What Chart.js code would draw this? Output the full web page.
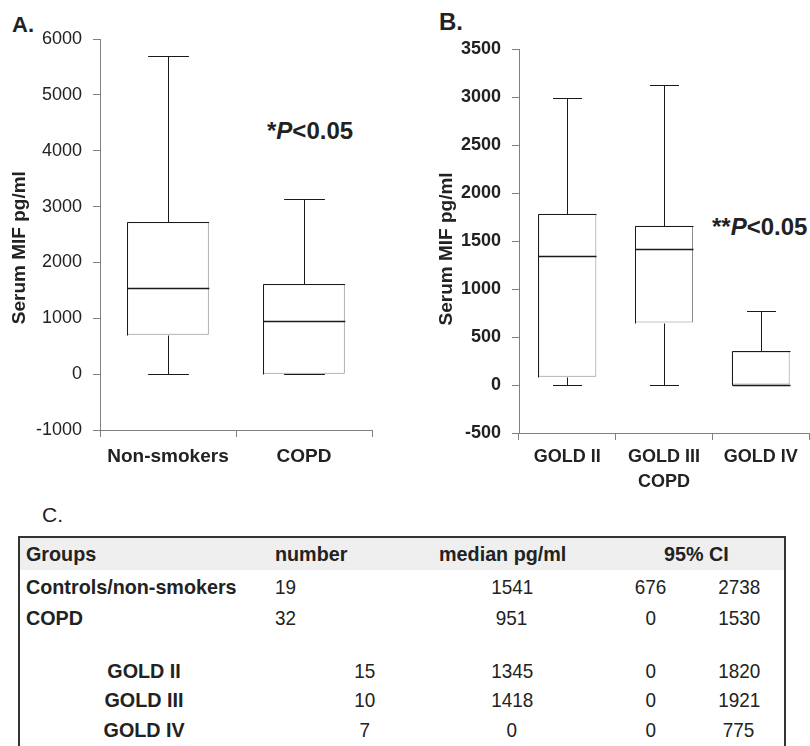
<!DOCTYPE html>
<html>
<head>
<meta charset="utf-8">
<script src="https://cdn.jsdelivr.net/npm/chart.js@4.4.1/dist/chart.umd.min.js"></script>
<style>
  body { margin: 0; width: 810px; height: 746px; background: #fff; position: relative; overflow: hidden;
         font-family: "Liberation Sans", Arial, sans-serif; color: #222; }
  canvas { position: absolute; }
  #chartA { left: 0; top: 0; }
  #chartB { left: 400px; top: 0; }
  .note { position: absolute; font-weight: bold; line-height: 1; white-space: nowrap; }
  #table { position: absolute; left: 18px; top: 536px; width: 764px; height: 240px;
           border: 2px solid #333; border-bottom: none; }
  #table .head { position: absolute; left: 0; right: 0; top: 0; height: 32px; background: #efefef; }
  .cell { position: absolute; height: 24px; line-height: 24px; font-size: 21px; white-space: nowrap; }
  .cell span { display: inline-block; transform: scaleX(0.9); }
  .cell.b span { transform: scaleX(0.94); }
  .cell.left span { transform-origin: left center; }
  .cell.mid { text-align: center; }
  .cell.mid span { transform-origin: center center; }
  .b { font-weight: bold; }
</style>
</head>
<body>
<div class="note" style="left:12px;top:14px;font-size:22px;">A.</div>
<div class="note" style="left:439px;top:10px;font-size:24px;">B.</div>
<div class="note" style="left:267px;top:119px;font-size:24px;">*<i>P</i>&lt;0.05</div>
<div class="note" style="left:712px;top:215px;font-size:24px;">**<i>P</i>&lt;0.05</div>
<div class="note" style="left:42px;top:504px;font-size:21px;font-weight:normal;">C.</div>

<canvas id="chartA" width="380" height="480"></canvas>
<canvas id="chartB" width="410" height="500"></canvas>

<div id="table"><div class="head"></div></div>

<script>
// panel A: non-smokers vs COPD
const groupsA = ["Non-smokers", "COPD"];
const minA = [0, 0];
const q1A = [705, 0];
const medianA = [1541, 951];
const q3A = [2720, 1610];
const maxA = [5700, 3130];

// panel B: COPD by GOLD stage
const groupsB = ["GOLD II", ["GOLD III", "COPD"], "GOLD IV"];
const minB = [0, 0, 0];
const q1B = [85, 650, 0];
const medianB = [1345, 1418, 0];
const q3B = [1785, 1660, 350];
const maxB = [2990, 3130, 770];

// panel C: summary table
const tableHeaders = ["Groups", "number", "median pg/ml", "95% CI"];
const tableGroups = ["Controls/non-smokers", "COPD", "GOLD II", "GOLD III", "GOLD IV"];
const tableN = [19, 32, 15, 10, 7];
const tableMedian = [1541, 951, 1345, 1418, 0];
const tableCiLow = [676, 0, 0, 0, 0];
const tableCiHigh = [2738, 1530, 1820, 1921, 775];

const AXIS_GREY = "#808080";

// whiskers, caps, medians and the dark top/left box edges, via the chart's scales
const boxWhiskers = {
  id: "boxWhiskers",
  afterDatasetsDraw(chart) {
    const ds = chart.data.datasets[0];
    const meta = chart.getDatasetMeta(0);
    const xs = chart.scales.x;
    const ys = chart.scales.y;
    const ctx = chart.ctx;
    const cap = (xs.getPixelForValue(1) - xs.getPixelForValue(0)) * 0.15;
    ctx.save();
    ctx.strokeStyle = "#1a1a1a";
    meta.data.forEach((bar, i) => {
      const cx = Math.round(bar.x) + 0.5;
      const half = bar.width / 2;
      const xL = Math.round(bar.x - half) + 0.5;
      const yLo = Math.round(ys.getPixelForValue(ds.mins[i])) + 0.5;
      const yHi = Math.round(ys.getPixelForValue(ds.maxs[i])) + 0.5;
      const yQ1 = Math.round(ys.getPixelForValue(ds.data[i][0])) + 0.5;
      const yQ3 = Math.round(ys.getPixelForValue(ds.data[i][1])) + 0.5;
      const yMed = Math.round(ys.getPixelForValue(ds.medians[i])) + 0.5;
      ctx.lineWidth = 1;
      ctx.beginPath();
      ctx.moveTo(cx, yQ3); ctx.lineTo(cx, yHi);
      ctx.moveTo(cx - cap, yHi); ctx.lineTo(cx + cap, yHi);
      if (yLo - yQ1 > 0.5) {
        ctx.moveTo(cx, yQ1); ctx.lineTo(cx, yLo);
      }
      ctx.moveTo(cx - cap, yLo); ctx.lineTo(cx + cap, yLo);
      // top and left edges of the box are dark, the others stay grey
      ctx.moveTo(xL, yQ1); ctx.lineTo(xL, yQ3); ctx.lineTo(xL + bar.width, yQ3);
      ctx.stroke();
      ctx.lineWidth = 1.6;
      ctx.beginPath();
      ctx.moveTo(cx - half, yMed); ctx.lineTo(cx + half, yMed);
      ctx.stroke();
    });
    ctx.restore();
  }
};

function makeBoxChart(id, labels, mins, q1, medians, q3, maxs, opts) {
  return new Chart(document.getElementById(id), {
    type: "bar",
    data: {
      labels: labels,
      datasets: [{
        data: q1.map((v, i) => [v, q3[i]]),
        mins: mins,
        maxs: maxs,
        medians: medians,
        backgroundColor: "#fff",
        borderColor: "#8c8c8c",
        borderWidth: 1,
        borderSkipped: false,
        barPercentage: 0.6,
        categoryPercentage: 1
      }]
    },
    options: {
      responsive: false,
      animation: false,
      layout: { padding: { top: opts.top, right: opts.right, left: 0, bottom: 0 } },
      plugins: { legend: { display: false }, tooltip: { enabled: false } },
      scales: {
        x: {
          grid: { drawOnChartArea: false, drawTicks: true, tickLength: 7, color: AXIS_GREY, offset: true },
          border: { display: true, color: AXIS_GREY, width: 1 },
          ticks: {
            color: "#222",
            padding: opts.xPad,
            maxRotation: 0,
            autoSkip: false,
            font: { family: "Liberation Sans", size: opts.xFont, weight: "bold", lineHeight: 1.4 }
          },
          afterFit(scale) { scale.height = opts.xHeight; }
        },
        y: {
          min: opts.min,
          max: opts.max,
          grid: { drawOnChartArea: false, drawTicks: true, tickLength: 7, color: AXIS_GREY },
          border: { display: true, color: AXIS_GREY, width: 1 },
          ticks: {
            stepSize: opts.step,
            color: "#222",
            padding: 11,
            callback: (v) => String(v),
            font: { family: "Liberation Sans", size: 18, weight: opts.yWeight }
          },
          title: {
            display: true,
            // trailing spaces nudge the rotated title a little lower, as in the original
            text: "Serum MIF pg/ml" + opts.titleTail,
            color: "#222",
            padding: { top: opts.titlePad, bottom: 0 },
            font: { family: "Liberation Sans", size: 19, weight: "bold" }
          },
          afterFit(scale) { scale.width = opts.yWidth; }
        }
      }
    },
    plugins: [boxWhiskers]
  });
}

makeBoxChart("chartA", groupsA, minA, q1A, medianA, q3A, maxA, {
  top: 39, right: 8, min: -1000, max: 6000, step: 1000,
  yWidth: 100, xHeight: 50, xPad: 6, xFont: 19, yWeight: "normal", titlePad: 8, titleTail: "     "
});

makeBoxChart("chartB", groupsB, minB, q1B, medianB, q3B, maxB, {
  top: 49, right: 1, min: -500, max: 3500, step: 500,
  yWidth: 119, xHeight: 67, xPad: 4, xFont: 18, yWeight: "bold", titlePad: 35, titleTail: "   "
});

// table C
const table = document.getElementById("table");
const ORIGIN_X = 20, ORIGIN_Y = 538;

function addCell(text, x, yCenter, align, bold) {
  const d = document.createElement("div");
  d.className = "cell " + align + (bold ? " b" : "");
  d.style.top = (yCenter - 12 - ORIGIN_Y) + "px";
  if (align === "mid") {
    d.style.left = (x - 100 - ORIGIN_X) + "px";
    d.style.width = "200px";
  } else {
    d.style.left = (x - ORIGIN_X) + "px";
  }
  const s = document.createElement("span");
  s.textContent = text;
  d.appendChild(s);
  table.appendChild(d);
}

const headerY = 554;
addCell(tableHeaders[0], 26, headerY, "left", true);
addCell(tableHeaders[1], 275, headerY, "left", true);
addCell(tableHeaders[2], 503, headerY, "mid", true);
addCell(tableHeaders[3], 696, headerY, "mid", true);

const rowY = [587, 618, 671, 700, 730];
tableGroups.forEach((g, i) => {
  const sub = i >= 2;
  if (sub) {
    addCell(g, 144, rowY[i], "mid", true);
    addCell(String(tableN[i]), 365, rowY[i], "mid", false);
  } else {
    addCell(g, 26, rowY[i], "left", true);
    addCell(String(tableN[i]), 275, rowY[i], "left", false);
  }
  addCell(String(tableMedian[i]), 512, rowY[i], "mid", false);
  addCell(String(tableCiLow[i]), 651, rowY[i], "mid", false);
  addCell(String(tableCiHigh[i]), 739, rowY[i], "mid", false);
});
</script>
</body>
</html>
